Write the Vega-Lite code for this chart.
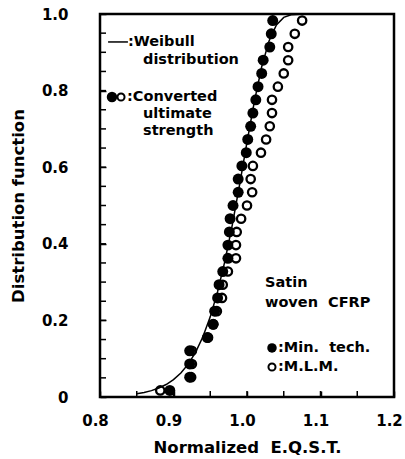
{
  "$schema": "https://vega.github.io/schema/vega-lite/v6.json",
  "width": 294,
  "height": 383,
  "autosize": "none",
  "padding": {"left": 100, "top": 14, "right": 11, "bottom": 62},
  "background": "white",
  "config": {
    "view": {"stroke": "black", "strokeWidth": 2.5},
    "font": "DejaVu Sans",
    "text": {"font": "DejaVu Sans", "fontWeight": "bold", "fontSize": 14.5, "color": "black", "align": "left", "baseline": "middle"},
    "axis": {
      "grid": false,
      "domain": false,
      "ticks": true,
      "tickColor": "black",
      "tickOpacity": 1,
      "tickWidth": 1.5,
      "tickSize": 6,
      "offset": -6,
      "zindex": 2,
      "labelFlush": false,
      "labelOverlap": false,
      "labelFont": "DejaVu Sans",
      "labelFontWeight": "bold",
      "labelFontSize": 15,
      "labelColor": "black",
      "titleFont": "DejaVu Sans",
      "titleFontWeight": "bold",
      "titleFontSize": 16.5,
      "titleColor": "black"
    }
  },
  "datasets": {
    "points": [
      {"method": "Min. tech.", "x": 0.895, "F": 0.0172},
      {"method": "Min. tech.", "x": 0.922, "F": 0.0517},
      {"method": "Min. tech.", "x": 0.922, "F": 0.0862},
      {"method": "Min. tech.", "x": 0.922, "F": 0.1207},
      {"method": "Min. tech.", "x": 0.946, "F": 0.1552},
      {"method": "Min. tech.", "x": 0.954, "F": 0.1897},
      {"method": "Min. tech.", "x": 0.956, "F": 0.2241},
      {"method": "Min. tech.", "x": 0.960, "F": 0.2586},
      {"method": "Min. tech.", "x": 0.962, "F": 0.2931},
      {"method": "Min. tech.", "x": 0.967, "F": 0.3276},
      {"method": "Min. tech.", "x": 0.974, "F": 0.3621},
      {"method": "Min. tech.", "x": 0.974, "F": 0.3966},
      {"method": "Min. tech.", "x": 0.976, "F": 0.4310},
      {"method": "Min. tech.", "x": 0.977, "F": 0.4655},
      {"method": "Min. tech.", "x": 0.981, "F": 0.5000},
      {"method": "Min. tech.", "x": 0.988, "F": 0.5345},
      {"method": "Min. tech.", "x": 0.988, "F": 0.5690},
      {"method": "Min. tech.", "x": 0.993, "F": 0.6034},
      {"method": "Min. tech.", "x": 0.999, "F": 0.6379},
      {"method": "Min. tech.", "x": 1.001, "F": 0.6724},
      {"method": "Min. tech.", "x": 1.005, "F": 0.7069},
      {"method": "Min. tech.", "x": 1.008, "F": 0.7414},
      {"method": "Min. tech.", "x": 1.012, "F": 0.7759},
      {"method": "Min. tech.", "x": 1.015, "F": 0.8103},
      {"method": "Min. tech.", "x": 1.020, "F": 0.8448},
      {"method": "Min. tech.", "x": 1.022, "F": 0.8793},
      {"method": "Min. tech.", "x": 1.031, "F": 0.9138},
      {"method": "Min. tech.", "x": 1.033, "F": 0.9483},
      {"method": "Min. tech.", "x": 1.035, "F": 0.9828},
      {"method": "M.L.M.", "x": 0.882, "F": 0.0172},
      {"method": "M.L.M.", "x": 0.924, "F": 0.0517},
      {"method": "M.L.M.", "x": 0.925, "F": 0.0862},
      {"method": "M.L.M.", "x": 0.925, "F": 0.1207},
      {"method": "M.L.M.", "x": 0.947, "F": 0.1552},
      {"method": "M.L.M.", "x": 0.954, "F": 0.1897},
      {"method": "M.L.M.", "x": 0.959, "F": 0.2241},
      {"method": "M.L.M.", "x": 0.966, "F": 0.2586},
      {"method": "M.L.M.", "x": 0.967, "F": 0.2931},
      {"method": "M.L.M.", "x": 0.974, "F": 0.3276},
      {"method": "M.L.M.", "x": 0.985, "F": 0.3621},
      {"method": "M.L.M.", "x": 0.985, "F": 0.3966},
      {"method": "M.L.M.", "x": 0.986, "F": 0.4310},
      {"method": "M.L.M.", "x": 0.992, "F": 0.4655},
      {"method": "M.L.M.", "x": 1.000, "F": 0.5000},
      {"method": "M.L.M.", "x": 1.007, "F": 0.5345},
      {"method": "M.L.M.", "x": 1.005, "F": 0.5690},
      {"method": "M.L.M.", "x": 1.008, "F": 0.6034},
      {"method": "M.L.M.", "x": 1.019, "F": 0.6379},
      {"method": "M.L.M.", "x": 1.026, "F": 0.6724},
      {"method": "M.L.M.", "x": 1.031, "F": 0.7069},
      {"method": "M.L.M.", "x": 1.034, "F": 0.7414},
      {"method": "M.L.M.", "x": 1.034, "F": 0.7759},
      {"method": "M.L.M.", "x": 1.042, "F": 0.8103},
      {"method": "M.L.M.", "x": 1.050, "F": 0.8448},
      {"method": "M.L.M.", "x": 1.056, "F": 0.8793},
      {"method": "M.L.M.", "x": 1.056, "F": 0.9138},
      {"method": "M.L.M.", "x": 1.065, "F": 0.9483},
      {"method": "M.L.M.", "x": 1.075, "F": 0.9828}
    ],
    "weibull": [
      {"x": 0.85, "F": 0.0083},
      {"x": 0.86, "F": 0.0118},
      {"x": 0.87, "F": 0.0166},
      {"x": 0.88, "F": 0.0234},
      {"x": 0.89, "F": 0.0326},
      {"x": 0.90, "F": 0.0453},
      {"x": 0.91, "F": 0.0626},
      {"x": 0.92, "F": 0.0858},
      {"x": 0.93, "F": 0.1166},
      {"x": 0.94, "F": 0.1572},
      {"x": 0.95, "F": 0.2093},
      {"x": 0.96, "F": 0.2750},
      {"x": 0.97, "F": 0.3552},
      {"x": 0.98, "F": 0.4495},
      {"x": 0.99, "F": 0.5549},
      {"x": 1.00, "F": 0.6653},
      {"x": 1.01, "F": 0.7712},
      {"x": 1.02, "F": 0.8623},
      {"x": 1.03, "F": 0.9298},
      {"x": 1.04, "F": 0.9713},
      {"x": 1.05, "F": 0.9912},
      {"x": 1.06, "F": 0.9981},
      {"x": 1.08, "F": 1.0}
    ],
    "xticks": [
      {"t": 0.85}, {"t": 0.9}, {"t": 0.95}, {"t": 1.0}, {"t": 1.05}, {"t": 1.1}, {"t": 1.15}
    ],
    "yticks": [
      {"t": 0.05}, {"t": 0.1}, {"t": 0.15}, {"t": 0.2}, {"t": 0.25}, {"t": 0.3}, {"t": 0.35}, {"t": 0.4}, {"t": 0.45}, {"t": 0.5},
      {"t": 0.55}, {"t": 0.6}, {"t": 0.65}, {"t": 0.7}, {"t": 0.75}, {"t": 0.8}, {"t": 0.85}, {"t": 0.9}, {"t": 0.95}
    ],
    "one": [{}]
  },
  "layer": [
    {
      "data": {"name": "weibull"},
      "mark": {"type": "line", "color": "black", "strokeWidth": 1.5, "clip": true},
      "encoding": {
        "x": {
          "field": "x", "type": "quantitative",
          "scale": {"domain": [0.8, 1.2], "nice": false, "zero": false},
          "axis": {
            "title": "Normalized\u00a0 E.Q.S.T.",
            "ticks": true,
            "tickSize": 6,
            "values": [0.8, 0.85, 0.9, 0.95, 1.0, 1.05, 1.1, 1.15, 1.2],
            "labelExpr": "abs(datum.value*10 - round(datum.value*10)) < 0.01 ? format(datum.value, '.1f') : ''",
            "labelPadding": 16,
            "labelOffset": -5,
            "titlePadding": 11
          }
        },
        "y": {
          "field": "F", "type": "quantitative",
          "scale": {"domain": [0, 1], "nice": false},
          "axis": {
            "title": "Distribution function",
            "ticks": true,
            "tickSize": 6,
            "values": [0, 0.05, 0.1, 0.15, 0.2, 0.25, 0.3, 0.35, 0.4, 0.45, 0.5, 0.55, 0.6, 0.65, 0.7, 0.75, 0.8, 0.85, 0.9, 0.95, 1.0],
            "labelExpr": "abs(datum.value*5 - round(datum.value*5)) < 0.01 ? (datum.value == 0 ? '0' : format(datum.value, '.1f')) : ''",
            "labelPadding": 32,
            "titlePadding": 15
          }
        }
      }
    },
    {
      "data": {"name": "xticks"},
      "mark": {"type": "tick", "orient": "vertical", "size": 12, "thickness": 1.5, "color": "black", "opacity": 1, "clip": true},
      "encoding": {
        "x": {"field": "t", "type": "quantitative"},
        "y": {"datum": 0}
      }
    },
    {
      "data": {"name": "yticks"},
      "mark": {"type": "tick", "orient": "horizontal", "size": 12, "thickness": 1.5, "color": "black", "opacity": 1, "clip": true},
      "encoding": {
        "y": {"field": "t", "type": "quantitative"},
        "x": {"datum": 0.8}
      }
    },
    {
      "data": {"name": "points"},
      "transform": [{"filter": "datum.method == 'M.L.M.'"}],
      "mark": {"type": "point", "shape": "circle", "filled": false, "stroke": "black", "strokeWidth": 2.3, "size": 70, "opacity": 1},
      "encoding": {
        "x": {"field": "x", "type": "quantitative"},
        "y": {"field": "F", "type": "quantitative"}
      }
    },
    {
      "data": {"name": "points"},
      "transform": [{"filter": "datum.method == 'Min. tech.'"}],
      "mark": {"type": "point", "shape": "circle", "filled": true, "color": "black", "size": 120, "opacity": 1},
      "encoding": {
        "x": {"field": "x", "type": "quantitative"},
        "y": {"field": "F", "type": "quantitative"}
      }
    },
    {
      "data": {"name": "one"},
      "mark": {"type": "rule", "color": "black", "strokeWidth": 1.5},
      "encoding": {"x": {"datum": 0.811}, "x2": {"datum": 0.838}, "y": {"datum": 0.927}}
    },
    {
      "data": {"name": "one"},
      "mark": {"type": "text"},
      "encoding": {"x": {"datum": 0.838}, "y": {"datum": 0.927}, "text": {"value": ":Weibull"}}
    },
    {
      "data": {"name": "one"},
      "mark": {"type": "text"},
      "encoding": {"x": {"datum": 0.8585}, "y": {"datum": 0.880}, "text": {"value": "distribution"}}
    },
    {
      "data": {"name": "one"},
      "mark": {"type": "point", "shape": "circle", "filled": true, "color": "black", "size": 110, "opacity": 1},
      "encoding": {"x": {"datum": 0.8163}, "y": {"datum": 0.7833}}
    },
    {
      "data": {"name": "one"},
      "mark": {"type": "point", "shape": "circle", "filled": false, "stroke": "black", "strokeWidth": 2, "size": 50, "opacity": 1},
      "encoding": {"x": {"datum": 0.8286}, "y": {"datum": 0.7833}}
    },
    {
      "data": {"name": "one"},
      "mark": {"type": "text"},
      "encoding": {"x": {"datum": 0.8367}, "y": {"datum": 0.7833}, "text": {"value": ":Converted"}}
    },
    {
      "data": {"name": "one"},
      "mark": {"type": "text"},
      "encoding": {"x": {"datum": 0.8585}, "y": {"datum": 0.7389}, "text": {"value": "ultimate"}}
    },
    {
      "data": {"name": "one"},
      "mark": {"type": "text"},
      "encoding": {"x": {"datum": 0.8585}, "y": {"datum": 0.6945}, "text": {"value": "strength"}}
    },
    {
      "data": {"name": "one"},
      "mark": {"type": "text"},
      "encoding": {"x": {"datum": 1.0245}, "y": {"datum": 0.2977}, "text": {"value": "Satin"}}
    },
    {
      "data": {"name": "one"},
      "mark": {"type": "text"},
      "encoding": {"x": {"datum": 1.0245}, "y": {"datum": 0.2454}, "text": {"value": "woven\u00a0 CFRP"}}
    },
    {
      "data": {"name": "one"},
      "mark": {"type": "point", "shape": "circle", "filled": true, "color": "black", "size": 90, "opacity": 1},
      "encoding": {"x": {"datum": 1.034}, "y": {"datum": 0.128}}
    },
    {
      "data": {"name": "one"},
      "mark": {"type": "text"},
      "encoding": {"x": {"datum": 1.0422}, "y": {"datum": 0.128}, "text": {"value": ":Min.\u00a0 tech."}}
    },
    {
      "data": {"name": "one"},
      "mark": {"type": "point", "shape": "circle", "filled": false, "stroke": "black", "strokeWidth": 2, "size": 50, "opacity": 1},
      "encoding": {"x": {"datum": 1.034}, "y": {"datum": 0.0783}}
    },
    {
      "data": {"name": "one"},
      "mark": {"type": "text"},
      "encoding": {"x": {"datum": 1.0422}, "y": {"datum": 0.0783}, "text": {"value": ":M.L.M."}}
    }
  ]
}
